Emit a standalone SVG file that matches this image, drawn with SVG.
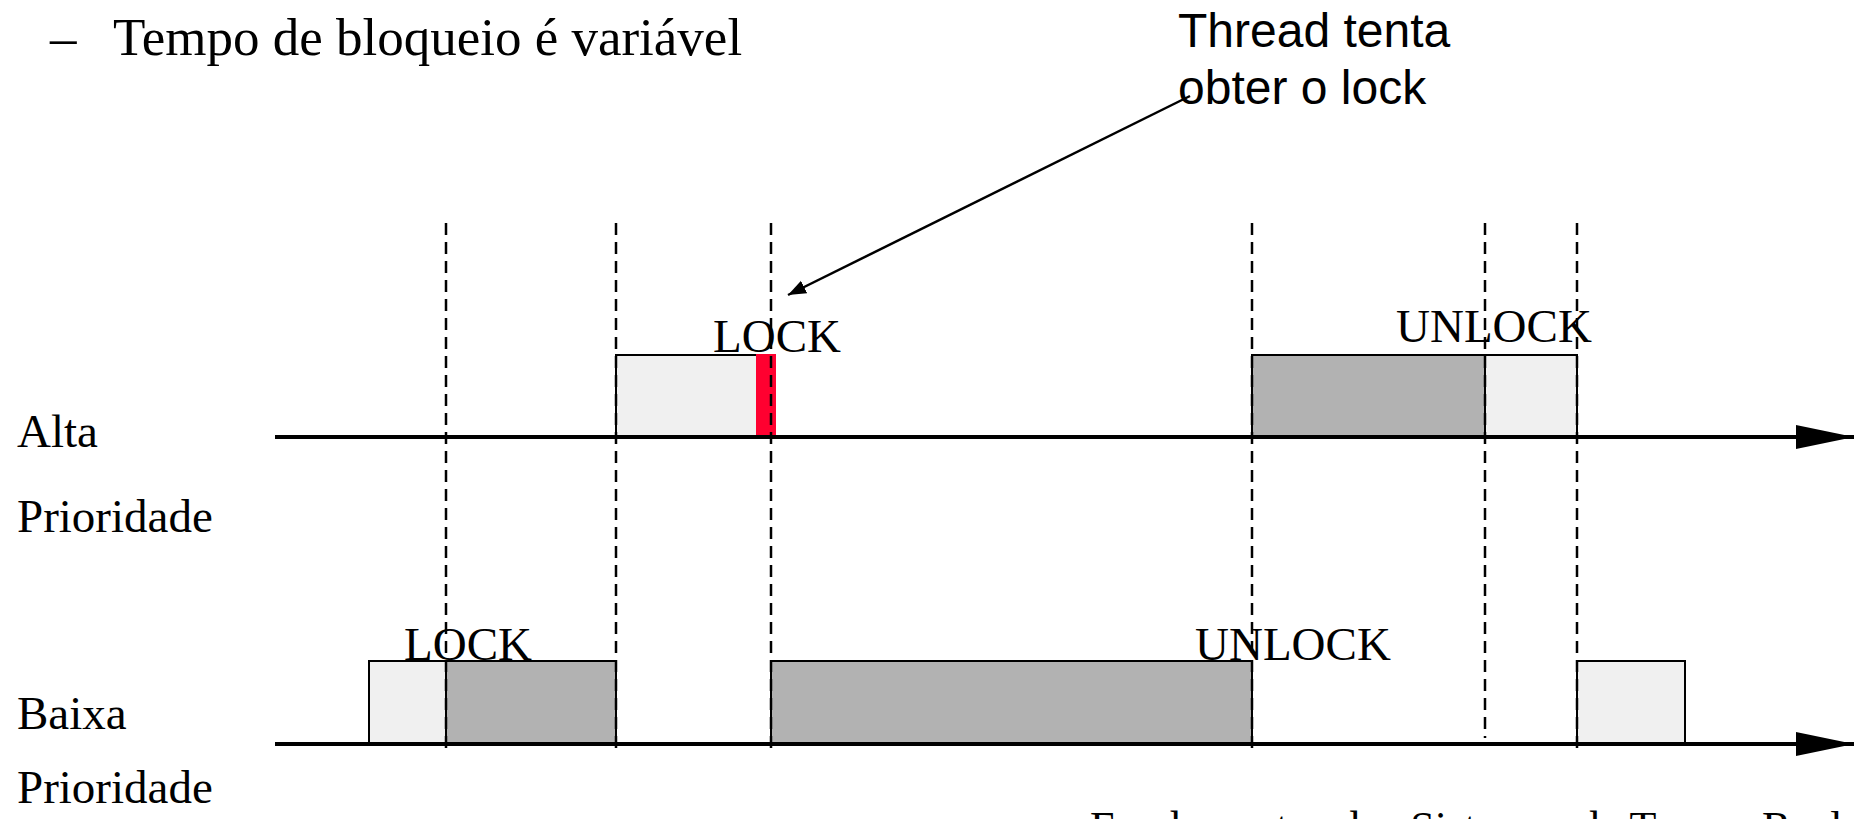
<svg xmlns="http://www.w3.org/2000/svg" width="1861" height="819" viewBox="0 0 1861 819">
  <style>
    .serif { font-family: "Liberation Serif", "Times New Roman", serif; fill: #000; }
    .sans { font-family: "Liberation Sans", Arial, sans-serif; fill: #000; }
    .lbl { font-size: 47px; }
    .axis { stroke: #000; stroke-width: 4; fill: none; }
    .guide { stroke: #000; stroke-width: 2.5; stroke-dasharray: 12 7; fill: none; }
    .light { fill: #f0f0f0; stroke: #000; stroke-width: 2; }
    .dark { fill: #b2b2b2; stroke: #000; stroke-width: 2; }
  </style>
  <defs>
    <marker id="axisHead" markerUnits="userSpaceOnUse" markerWidth="60" markerHeight="26" refX="58" refY="12" orient="auto">
      <path d="M0,0 L58,12 L0,24 Z" fill="#000"/>
    </marker>
    <marker id="pointer" markerUnits="userSpaceOnUse" markerWidth="20" markerHeight="16" refX="18" refY="7" orient="auto">
      <path d="M0,0 L18,7 L0,14 Z" fill="#000"/>
    </marker>
  </defs>

  <rect width="1861" height="819" fill="#fff"/>

  <!-- heading -->
  <g id="heading">
    <text class="serif" x="50" y="55" font-size="53">–</text>
    <text class="serif" x="113" y="55" font-size="53">Tempo de bloqueio é variável</text>
  </g>

  <!-- priority labels -->
  <g id="label-alta">
    <text class="serif lbl" x="17" y="447">Alta</text>
    <text class="serif lbl" x="17" y="532">Prioridade</text>
  </g>
  <g id="label-baixa">
    <text class="serif lbl" x="17" y="729">Baixa</text>
    <text class="serif lbl" x="17" y="803">Prioridade</text>
  </g>

  <!-- high priority thread segments -->
  <g id="alta-run1">
    <rect class="light" x="616" y="355" width="150" height="82"/>
    <rect x="756" y="354" width="20" height="83" fill="#ff0030"/>
  </g>
  <g id="alta-run2">
    <rect class="dark" x="1252" y="355" width="233" height="82"/>
    <rect class="light" x="1485" y="355" width="92" height="82"/>
  </g>

  <!-- low priority thread segments -->
  <g id="baixa-run1">
    <rect class="light" x="369" y="661" width="77" height="83"/>
    <rect class="dark" x="446" y="661" width="170" height="83"/>
  </g>
  <g id="baixa-run2">
    <rect class="dark" x="771" y="661" width="481" height="83"/>
  </g>
  <g id="baixa-run3">
    <rect class="light" x="1577" y="661" width="108" height="83"/>
  </g>

  <!-- event labels -->
  <g id="events">
    <text class="serif lbl" x="713" y="352">LOCK</text>
    <text class="serif lbl" x="1396" y="342">UNLOCK</text>
    <text class="serif lbl" x="404" y="660">LOCK</text>
    <text class="serif lbl" x="1195" y="660">UNLOCK</text>
  </g>

  <!-- annotation -->
  <g id="note">
    <text class="sans" x="1178" y="47" font-size="48">Thread tenta</text>
    <text class="sans" x="1178" y="104" font-size="48">obter o lock</text>
  </g>

  <!-- connectors: time axes, guide lines, pointer -->
  <g id="connectors">
    <line class="axis" x1="275" y1="437" x2="1854" y2="437" marker-end="url(#axisHead)"/>
    <line class="axis" x1="275" y1="744" x2="1854" y2="744" marker-end="url(#axisHead)"/>
    <line class="guide" x1="446" y1="223" x2="446" y2="748"/>
    <line class="guide" x1="616" y1="223" x2="616" y2="748"/>
    <line class="guide" x1="771" y1="223" x2="771" y2="748"/>
    <line class="guide" x1="1252" y1="223" x2="1252" y2="748"/>
    <line class="guide" x1="1485" y1="223" x2="1485" y2="738"/>
    <line class="guide" x1="1577" y1="223" x2="1577" y2="748"/>
    <line x1="1190" y1="96" x2="788" y2="295" stroke="#000" stroke-width="2.5" marker-end="url(#pointer)"/>
  </g>

  <!-- footer, running off the bottom edge -->
  <text class="serif" x="1090" y="842" font-size="44">Fundamentos dos Sistemas de Tempo Real</text>
</svg>
